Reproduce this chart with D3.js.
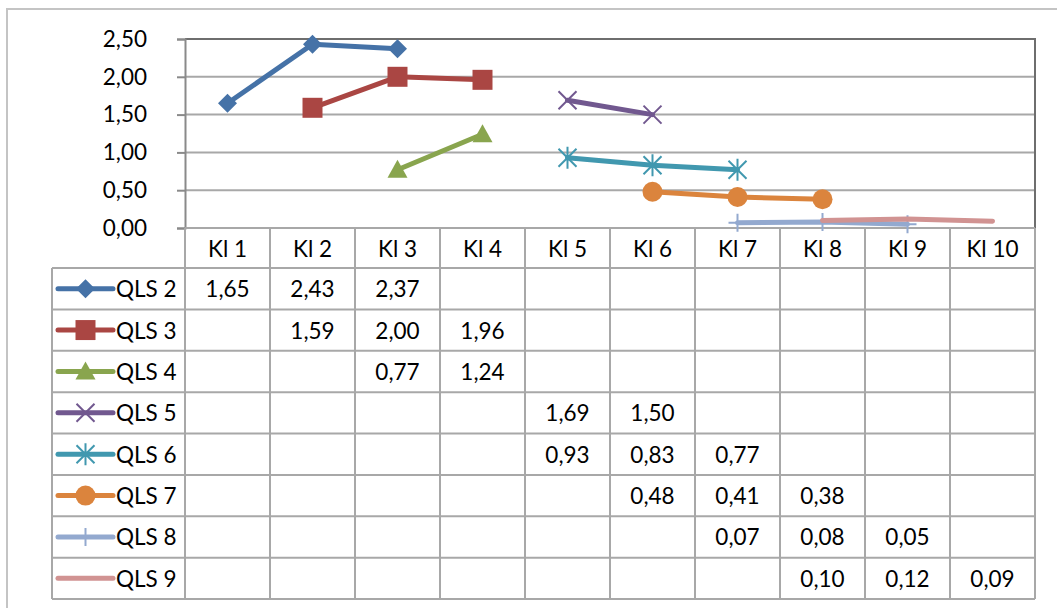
<!DOCTYPE html>
<html>
<head>
<meta charset="utf-8">
<script src="https://cdn.jsdelivr.net/npm/d3@7/dist/d3.min.js"></script>
<style>
  html, body { margin: 0; padding: 0; background: #fff; }
  svg { display: block; font-family: Lato, "Open Sans", sans-serif; }
</style>
</head>
<body>
<svg id="chart" width="1057" height="608"></svg>
<script>
// Categories (classes) along the x axis
const categories = ["Kl 1", "Kl 2", "Kl 3", "Kl 4", "Kl 5", "Kl 6", "Kl 7", "Kl 8", "Kl 9", "Kl 10"];

// Series names
const seriesNames = ["QLS 2", "QLS 3", "QLS 4", "QLS 5", "QLS 6", "QLS 7", "QLS 8", "QLS 9"];

// Values per series, indexed by category (null = no value)
const qls2 = [1.65, 2.43, 2.37, null, null, null, null, null, null, null];
const qls3 = [null, 1.59, 2.00, 1.96, null, null, null, null, null, null];
const qls4 = [null, null, 0.77, 1.24, null, null, null, null, null, null];
const qls5 = [null, null, null, null, 1.69, 1.50, null, null, null, null];
const qls6 = [null, null, null, null, 0.93, 0.83, 0.77, null, null, null];
const qls7 = [null, null, null, null, null, 0.48, 0.41, 0.38, null, null];
const qls8 = [null, null, null, null, null, null, 0.07, 0.08, 0.05, null];
const qls9 = [null, null, null, null, null, null, null, 0.10, 0.12, 0.09];

// Y axis ticks
const yTicks = [0, 0.5, 1.0, 1.5, 2.0, 2.5];

const seriesValues = [qls2, qls3, qls4, qls5, qls6, qls7, qls8, qls9];
const colors = ["#4572A7", "#AA4643", "#89A54E", "#71588F", "#4198AF", "#DB843D", "#93A9CF", "#D19392"];
const markerKinds = ["diamond", "square", "triangle", "x", "star", "circle", "plus", "none"];

const svg = d3.select("#chart");
const fontSize = 22.5;
const gridColor = "#a8a8a8";

const locale = d3.formatLocale({ decimal: ",", thousands: ".", grouping: [3], currency: ["", " €"] });
const fmt = locale.format(".2f");

// Plot geometry
const plotLeft = 185, plotRight = 1035, plotTop = 39, plotBottom = 228;
const tableLeft = 52, headerBottom = 268, tableBottom = 599;

const x = d3.scaleBand().domain(categories).range([plotLeft, plotRight]).padding(0);
const y = d3.scaleLinear().domain([0, 2.5]).range([plotBottom, plotTop]);
const rowScale = d3.scaleBand().domain(seriesNames).range([headerBottom, tableBottom]).padding(0);

// Outer chart frame
svg.append("rect")
  .attr("x", 7).attr("y", 9).attr("width", 1200).attr("height", 800)
  .attr("fill", "none").attr("stroke", "#c4c4c4").attr("stroke-width", 2);

// Horizontal gridlines
svg.append("g").selectAll("line")
  .data(yTicks.slice(1, -1))
  .join("line")
  .attr("x1", plotLeft).attr("x2", plotRight)
  .attr("y1", d => y(d)).attr("y2", d => y(d))
  .attr("stroke", gridColor).attr("stroke-width", 2);

// Plot frame: top and right edges darker
svg.append("line").attr("x1", plotLeft).attr("x2", plotRight + 1)
  .attr("y1", plotTop).attr("y2", plotTop)
  .attr("stroke", "#6e6e6e").attr("stroke-width", 2);
svg.append("line").attr("x1", plotRight).attr("x2", plotRight)
  .attr("y1", plotTop).attr("y2", plotBottom)
  .attr("stroke", "#6e6e6e").attr("stroke-width", 2);

// Y axis
const yAxis = d3.axisLeft(y).tickValues(yTicks).tickFormat(fmt).tickSize(8).tickPadding(30);
const yAxisG = svg.append("g").attr("transform", `translate(${plotLeft},0)`).call(yAxis);
yAxisG.select(".domain").attr("stroke", "#8a8a8a").attr("stroke-width", 2);
yAxisG.selectAll(".tick line").attr("stroke", "#8a8a8a").attr("stroke-width", 2);
yAxisG.selectAll(".tick text")
  .attr("font-size", fontSize).attr("fill", "#000")
  .attr("font-family", "Lato, sans-serif");

// Data table grid
const tableG = svg.append("g");
tableG.selectAll("line.col")
  .data(d3.range(categories.length + 1))
  .join("line")
  .attr("class", "col")
  .attr("x1", i => plotLeft + i * x.bandwidth())
  .attr("x2", i => plotLeft + i * x.bandwidth())
  .attr("y1", plotBottom).attr("y2", tableBottom)
  .attr("stroke", gridColor).attr("stroke-width", 2);
tableG.append("line")
  .attr("x1", tableLeft).attr("x2", tableLeft)
  .attr("y1", headerBottom).attr("y2", tableBottom)
  .attr("stroke", gridColor).attr("stroke-width", 2);
tableG.selectAll("line.row")
  .data(d3.range(seriesNames.length + 1))
  .join("line")
  .attr("class", "row")
  .attr("x1", tableLeft).attr("x2", plotRight)
  .attr("y1", i => headerBottom + i * rowScale.bandwidth())
  .attr("y2", i => headerBottom + i * rowScale.bandwidth())
  .attr("stroke", gridColor).attr("stroke-width", 2);
tableG.append("line")
  .attr("x1", plotLeft).attr("x2", plotRight)
  .attr("y1", plotBottom).attr("y2", plotBottom)
  .attr("stroke", gridColor).attr("stroke-width", 2);

// Header labels
tableG.selectAll("text.head")
  .data(categories)
  .join("text")
  .attr("class", "head")
  .attr("x", d => x(d) + x.bandwidth() / 2)
  .attr("y", (plotBottom + headerBottom) / 2)
  .attr("text-anchor", "middle").attr("dominant-baseline", "central")
  .attr("font-size", fontSize).attr("fill", "#000")
  .text(d => d);

// Cell values
seriesNames.forEach((name, si) => {
  const cells = seriesValues[si].map((v, ci) => ({ v, cat: categories[ci] })).filter(d => d.v !== null);
  tableG.selectAll(null)
    .data(cells)
    .join("text")
    .attr("x", d => x(d.cat) + x.bandwidth() / 2)
    .attr("y", rowScale(name) + rowScale.bandwidth() / 2)
    .attr("text-anchor", "middle").attr("dominant-baseline", "central")
    .attr("font-size", fontSize).attr("fill", "#000")
    .text(d => fmt(d.v));
});

// Marker shapes
function markerPath(kind) {
  const p = d3.path();
  switch (kind) {
    case "diamond": { const h = 9.5; p.moveTo(0, -h); p.lineTo(h, 0); p.lineTo(0, h); p.lineTo(-h, 0); p.closePath(); break; }
    case "square": { const h = 10; p.rect(-h, -h, 2 * h, 2 * h); break; }
    case "triangle": { p.moveTo(0, -10); p.lineTo(10, 8); p.lineTo(-10, 8); p.closePath(); break; }
    case "circle": { p.arc(0, 0, 10, 0, 2 * Math.PI); break; }
    case "x": { const h = 9; p.moveTo(-h, -h); p.lineTo(h, h); p.moveTo(h, -h); p.lineTo(-h, h); break; }
    case "star": { const h = 9; p.moveTo(-h, -h); p.lineTo(h, h); p.moveTo(h, -h); p.lineTo(-h, h); p.moveTo(0, -h - 2); p.lineTo(0, h + 2); break; }
    case "plus": { const h = 9; p.moveTo(0, -h); p.lineTo(0, h); p.moveTo(-h, 0); p.lineTo(h, 0); break; }
    default: break;
  }
  return p.toString();
}
const strokeMarkers = new Set(["x", "star", "plus"]);

function drawMarker(g, kind, color, cx, cy) {
  if (kind === "none") return;
  const m = g.append("path")
    .attr("d", markerPath(kind))
    .attr("transform", `translate(${cx},${cy})`);
  if (strokeMarkers.has(kind)) {
    m.attr("fill", "none").attr("stroke", color).attr("stroke-width", 2);
  } else {
    m.attr("fill", color).attr("stroke", "none");
  }
}

// Lines and markers
const line = d3.line()
  .defined(d => d.v !== null)
  .x(d => x(d.cat) + x.bandwidth() / 2)
  .y(d => y(d.v));

const plotG = svg.append("g");
seriesNames.forEach((name, si) => {
  const pts = seriesValues[si].map((v, ci) => ({ v, cat: categories[ci] }));
  const g = plotG.append("g");
  g.append("path")
    .datum(pts)
    .attr("d", line)
    .attr("fill", "none")
    .attr("stroke", colors[si])
    .attr("stroke-width", 5)
    .attr("stroke-linejoin", "round")
    .attr("stroke-linecap", "round");
  pts.filter(d => d.v !== null).forEach(d => {
    drawMarker(g, markerKinds[si], colors[si], x(d.cat) + x.bandwidth() / 2, y(d.v));
  });
});

// Legend keys in the first table column
const legendG = svg.append("g");
seriesNames.forEach((name, si) => {
  const cy = rowScale(name) + rowScale.bandwidth() / 2;
  legendG.append("line")
    .attr("x1", 58).attr("x2", 113).attr("y1", cy).attr("y2", cy)
    .attr("stroke", colors[si]).attr("stroke-width", 5).attr("stroke-linecap", "round");
  drawMarker(legendG, markerKinds[si], colors[si], 85.5, cy);
  legendG.append("text")
    .attr("x", 116).attr("y", cy)
    .attr("dominant-baseline", "central")
    .attr("font-size", fontSize).attr("fill", "#000")
    .text(name);
});
</script>
</body>
</html>
